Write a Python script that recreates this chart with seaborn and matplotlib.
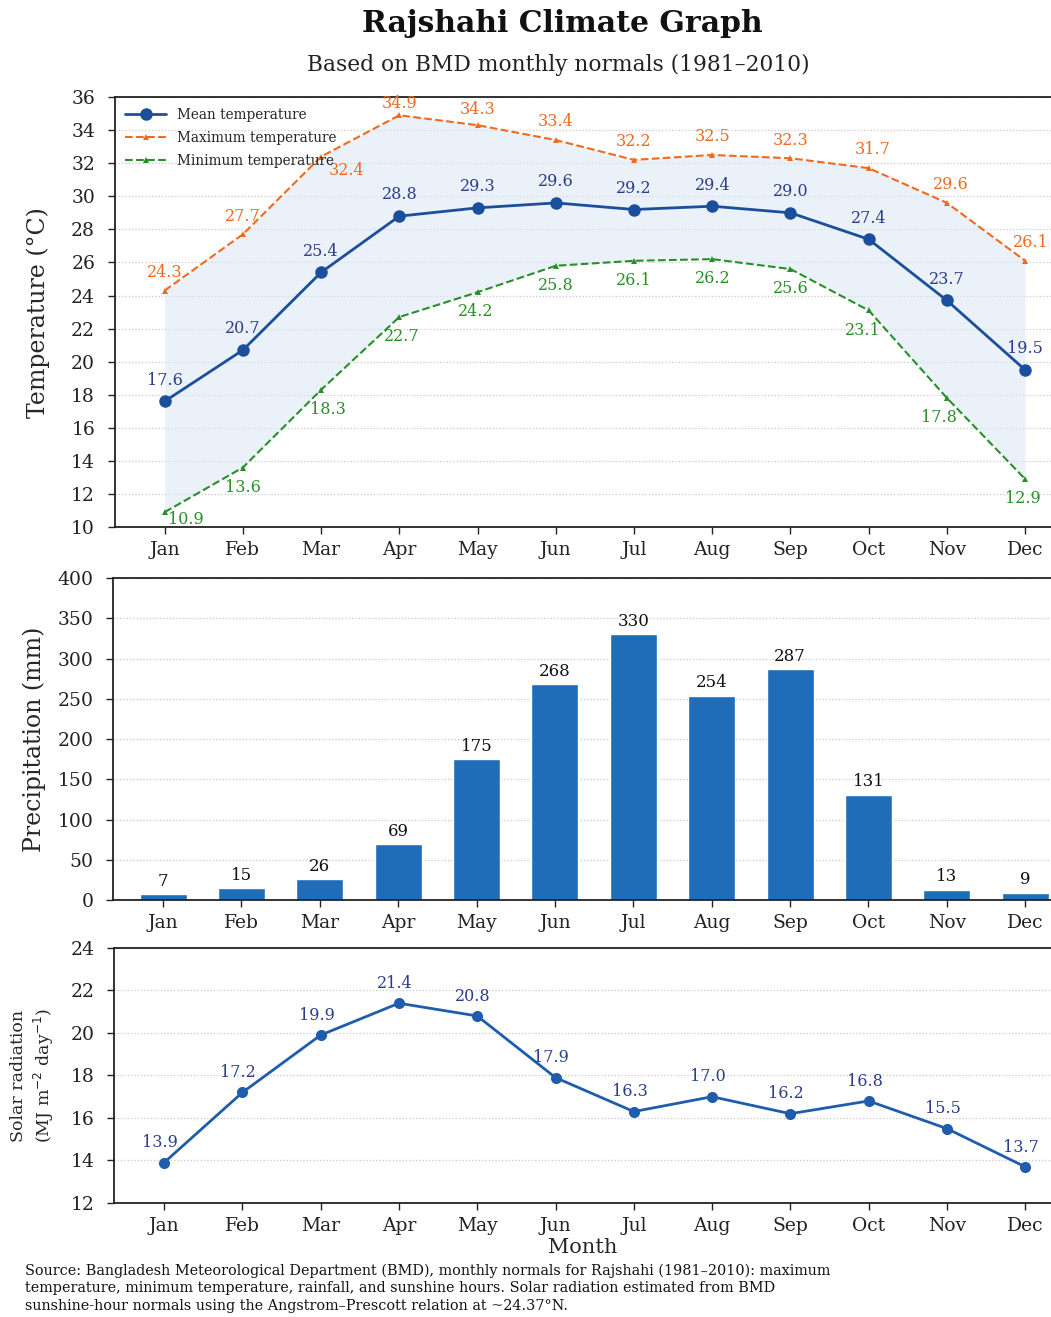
import numpy as np
import pandas as pd
import matplotlib.pyplot as plt
import seaborn as sns

# monthly normals
months = ["Jan", "Feb", "Mar", "Apr", "May", "Jun", "Jul", "Aug", "Sep", "Oct", "Nov", "Dec"]
t_mean = [17.6, 20.7, 25.4, 28.8, 29.3, 29.6, 29.2, 29.4, 29.0, 27.4, 23.7, 19.5]
t_max = [24.3, 27.7, 32.4, 34.9, 34.3, 33.4, 32.2, 32.5, 32.3, 31.7, 29.6, 26.1]
t_min = [10.9, 13.6, 18.3, 22.7, 24.2, 25.8, 26.1, 26.2, 25.6, 23.1, 17.8, 12.9]
rain = [7, 15, 26, 69, 175, 268, 330, 254, 287, 131, 13, 9]
solar = [13.9, 17.2, 19.9, 21.4, 20.8, 17.9, 16.3, 17.0, 16.2, 16.8, 15.5, 13.7]

df = pd.DataFrame({"idx": np.arange(len(months)), "month": months,
                   "mean": t_mean, "max": t_max, "min": t_min,
                   "rain": rain, "solar": solar})

sns.set_theme(style="ticks")
plt.rcParams["font.family"] = ["DejaVu Serif"]
plt.rcParams["axes.edgecolor"] = "#222222"
plt.rcParams["axes.linewidth"] = 1.3
plt.rcParams["xtick.color"] = "#222222"
plt.rcParams["ytick.color"] = "#222222"

c_mean = "#1b4f9c"
c_mean_txt = "#2b3d8c"
c_max = "#f06a1e"
c_min = "#2a8f2a"
c_bar = "#1f6db8"
c_sol = "#1f5cac"

fig = plt.figure(figsize=(10.51, 13.17), dpi=100)
ax1 = fig.add_axes([0.109, 0.5998, 0.891, 0.3265])
ax2 = fig.add_axes([0.1075, 0.3166, 0.8925, 0.2445])
ax3 = fig.add_axes([0.1085, 0.0866, 0.8915, 0.1936])

fig.text(0.535, 0.982, "Rajshahi Climate Graph", ha="center", va="center",
         fontsize=21.5, fontweight="bold", color="#111111")
fig.text(0.531, 0.951, "Based on BMD monthly normals (1981\u20132010)", ha="center",
         va="center", fontsize=15.7, color="#222222")

# temperature panel
ax1.fill_between(df["idx"], df["min"], df["max"], color="#dce8f5", alpha=0.6, lw=0)
sns.lineplot(data=df, x="idx", y="mean", ax=ax1, color=c_mean, lw=2, marker="o",
             markersize=9, markeredgewidth=0, label="Mean temperature")
sns.lineplot(data=df, x="idx", y="max", ax=ax1, color=c_max, lw=1.5, ls="--",
             marker="^", markersize=4, markeredgewidth=0, label="Maximum temperature")
sns.lineplot(data=df, x="idx", y="min", ax=ax1, color=c_min, lw=1.5, ls="--",
             marker="^", markersize=4, markeredgewidth=0, label="Minimum temperature")

for i, v in enumerate(t_mean):
    ax1.annotate(f"{v:.1f}", (i, v), xytext=(0, 12), textcoords="offset points",
                 ha="center", fontsize=11.5, color=c_mean_txt)

# label nudges so the numbers clear the lines and the frame
max_dx = [0, 0, 18, 0, 0, 0, 0, 0, 0, 3, 3, 4]
max_dy = [7, 7, -16, 2, 5, 7, 7, 7, 7, 7, 7, 7]
for i, v in enumerate(t_max):
    ax1.annotate(f"{v:.1f}", (i, v), xytext=(max_dx[i], max_dy[i]),
                 textcoords="offset points", ha="center", va="bottom",
                 fontsize=11.5, color=c_max)
min_dx = [15, 0, 5, 2, -1, 0, 0, 0, 0, -4, -6, -2]
min_dy = [1, -8, -8, -8, -8, -8, -8, -8, -8, -8, -8, -8]
for i, v in enumerate(t_min):
    ax1.annotate(f"{v:.1f}", (i, v), xytext=(min_dx[i], min_dy[i]),
                 textcoords="offset points", ha="center", va="top",
                 fontsize=11.5, color=c_min)

ax1.set_ylim(10, 36)
ax1.set_yticks(np.arange(10, 37, 2))
ax1.set_ylabel("Temperature (\u00b0C)", fontsize=17)
leg = ax1.legend(loc="upper left", frameon=False, fontsize=9.8, handlelength=3,
                 borderaxespad=0.4, labelspacing=0.65)

# precipitation panel
sns.barplot(data=df, x="idx", y="rain", ax=ax2, color=c_bar, width=0.6,
            saturation=1, native_scale=True)
for i, v in enumerate(rain):
    ax2.annotate(f"{v}", (i, v), xytext=(0, 6), textcoords="offset points",
                 ha="center", fontsize=12, color="#111111")
ax2.set_ylim(0, 400)
ax2.set_yticks(np.arange(0, 401, 50))
ax2.set_ylabel("Precipitation (mm)", fontsize=17)

# solar radiation panel
sns.lineplot(data=df, x="idx", y="solar", ax=ax3, color=c_sol, lw=2, marker="o",
             markersize=8, markeredgewidth=0)
for i, v in enumerate(solar):
    ax3.annotate(f"{v:.1f}", (i, v), xytext=(-3, 11), textcoords="offset points",
                 ha="center", fontsize=11.5, color=c_mean_txt)
ax3.set_ylim(12, 24)
ax3.set_yticks(np.arange(12, 25, 2))
ax3.set_ylabel("Solar radiation\n(MJ m$^{-2}$ day$^{-1}$)", fontsize=12.5, linespacing=1.25)
ax3.set_xlabel("Month", fontsize=15, labelpad=2)

for ax in (ax1, ax2, ax3):
    ax.set_xlim(-0.64, 11.33)
    ax.set_xticks(df["idx"])
    ax.set_xticklabels(months)
    ax.tick_params(axis="both", labelsize=13.5, length=5, width=1)
    ax.tick_params(axis="y", pad=9)
    ax.tick_params(axis="x", pad=5)
    ax.yaxis.grid(True, ls=":", color="#c8c8c8", lw=0.9)
    ax.set_axisbelow(True)
    ax.spines["right"].set_visible(False)
    if ax is not ax3:
        ax.set_xlabel("")
ax1.yaxis.set_label_coords(-0.069, 0.5)
ax2.yaxis.set_label_coords(-0.071, 0.5)
ax3.yaxis.set_label_coords(-0.062, 0.5)

fig.text(0.024, 0.022,
         "Source: Bangladesh Meteorological Department (BMD), monthly normals for Rajshahi (1981\u20132010): maximum\n"
         "temperature, minimum temperature, rainfall, and sunshine hours. Solar radiation estimated from BMD\n"
         "sunshine-hour normals using the Angstrom\u2013Prescott relation at ~24.37\u00b0N.",
         ha="left", va="center", fontsize=10.4, color="#111111", linespacing=1.3)

fig.savefig("out.png", dpi=100)
